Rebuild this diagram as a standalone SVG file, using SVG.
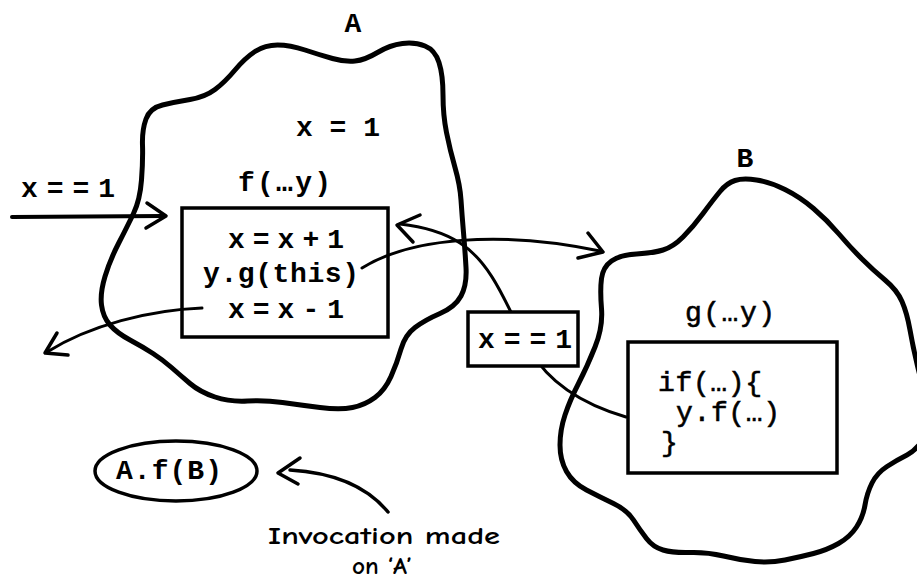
<svg xmlns="http://www.w3.org/2000/svg" width="917" height="587" viewBox="0 0 917 587">
<style>
.blob{fill:none;stroke:#000;stroke-width:5;stroke-linejoin:round}
.box{fill:none;stroke:#000;stroke-width:3.5}
.wbox{fill:#fff;stroke:#000;stroke-width:3.5}
.con{fill:none;stroke:#000;stroke-width:3;stroke-linecap:round}
.head{fill:none;stroke:#000;stroke-width:3.5;stroke-linecap:round;stroke-linejoin:round}
.code{font-family:"Liberation Mono","Courier New",monospace;font-size:28px;font-weight:bold;fill:#000}
.light{font-weight:normal;stroke:#000;stroke-width:0.6}
.note{font-family:"Comic Sans MS","Comic Neue","Noto Sans",sans-serif;font-size:25px;font-weight:bold;fill:#000}
</style>
<rect width="917" height="587" fill="#fff"/>
<g id="nodeA">
<path class="blob" d="M153,353.5 Q163,360 171.5,367.5 Q180,375 190,383.5 Q200,392 215,397 Q230,402 247.5,401 Q265,400 282.5,402.5 Q300,405 320,407.5 Q340,410 352.5,407.5 Q365,405 375,397.5 Q385,390 391,376.5 Q397,363 401,349 Q405,335 415,327.5 Q425,320 440,313.5 Q455,307 461,296 Q467,285 466,267.5 Q465,250 463.5,232.5 Q462,215 461,200 Q460,185 455,167.5 Q450,150 446.5,132.5 Q443,115 443,95 Q443,75 439,62.5 Q435,50 425,46 Q415,42 402.5,43.5 Q390,45 377.5,52.5 Q365,60 355,61 Q345,62 332.5,58.5 Q320,55 305,50 Q290,45 277.5,45 Q265,45 255,51.5 Q245,58 235,70 Q225,82 215,89.5 Q205,97 190,99.5 Q175,102 162.5,105 Q150,108 146,119 Q142,130 142.5,145 Q143,160 141.5,180 Q140,200 133.5,213.5 Q127,227 118.5,243.5 Q110,260 105,276.5 Q100,293 101.5,305 Q103,317 110,325 Q117,333 130,340 Q143,347 153,353.5 Z"/>
<text class="code" x="353" y="32" text-anchor="middle">A</text>
<text class="code" x="296" y="136" textLength="84" lengthAdjust="spacing">x = 1</text>
</g>
<g id="nodeB">
<path class="blob" d="M735,180.5 Q743,178 756.5,180 Q770,182 785,189.5 Q800,197 813.5,208.5 Q827,220 838.5,233.5 Q850,247 861.5,258.5 Q873,270 885,280 Q897,290 902,301.5 Q907,313 910,330 Q913,347 917.5,366 Q922,385 928.5,402.5 Q935,420 926,435 Q917,450 907,455 Q897,460 887,466.5 Q877,473 872,483 Q867,493 865,505 Q863,517 856.5,527 Q850,537 838.5,543.5 Q827,550 813.5,553.5 Q800,557 785,560 Q770,563 755,561.5 Q740,560 723.5,556 Q707,552 690,552.5 Q673,553 663,550 Q653,547 646.5,538.5 Q640,530 633.5,520 Q627,510 613.5,503.5 Q600,497 586.5,490 Q573,483 566.5,471.5 Q560,460 560,445 Q560,430 565,415 Q570,400 578.5,383.5 Q587,367 595,347 Q603,327 601.5,308.5 Q600,290 601.5,278.5 Q603,267 611.5,261 Q620,255 636.5,254 Q653,253 663,250 Q673,247 683,237 Q693,227 703,213.5 Q713,200 720,191.5 Q727,183 735,180.5 Z"/>
<text class="code" x="745" y="167" text-anchor="middle">B</text>
</g>
<g id="funcF">
<text class="code" x="238" y="191" textLength="93" lengthAdjust="spacing">f(…y)</text>
<rect class="box" x="182" y="208" width="206" height="129"/>
<text class="code" x="228" y="248" textLength="116" lengthAdjust="spacing">x=x+1</text>
<text class="code" x="203" y="282" textLength="156" lengthAdjust="spacing">y.g(this)</text>
<text class="code" x="228" y="318" textLength="116" lengthAdjust="spacing">x=x-1</text>
</g>
<g id="funcG">
<text class="code light" x="685" y="321" textLength="90" lengthAdjust="spacing">g(…y)</text>
<rect class="box" x="628" y="342" width="209" height="131"/>
<text class="code light" x="658" y="391" textLength="104" lengthAdjust="spacing">if(…){</text>
<text class="code light" x="676" y="421" textLength="104" lengthAdjust="spacing">y.f(…)</text>
<text class="code light" x="661" y="451">}</text>
</g>
<g id="connectors">
<path class="con" style="stroke-width:4" d="M12,217 L163,216"/>
<path class="head" d="M147,203 L166,216 L146,228"/>
<text class="code" x="21" y="197" textLength="94" lengthAdjust="spacing">x==1</text>
<path class="con" d="M202,308 C150,310 90,325 47,352"/>
<path class="head" d="M57,333 L45,353 L68,355"/>
<path class="con" d="M362,268 C410,238 500,230 600,251"/>
<path class="head" d="M588,233 L603,252 L578,258"/>
<path class="con" d="M626,417 C585,405 550,385 530,350 S495,265 460,243 C440,230 418,226 400,224"/>
<path class="head" d="M420,215 L397,225 L413,242"/>
<path class="con" style="stroke-width:3.5" d="M388,512 C370,490 340,473 290,470"/>
<path class="head" d="M300,458 L278,473 L298,484"/>
</g>
<g id="cond">
<rect class="wbox" x="468" y="312" width="110" height="54"/>
<text class="code" x="478" y="348" textLength="94" lengthAdjust="spacing">x==1</text>
</g>
<g id="call">
<ellipse class="box" cx="176" cy="471" rx="81" ry="30"/>
<text class="code" x="116" y="479" textLength="106" lengthAdjust="spacing">A.f(B)</text>
</g>
<g id="note">
<text class="note" x="268" y="544" textLength="232" lengthAdjust="spacingAndGlyphs">Invocation made</text>
<text class="note" x="352" y="574" textLength="60" lengthAdjust="spacingAndGlyphs">on ‘A’</text>
</g>
</svg>
